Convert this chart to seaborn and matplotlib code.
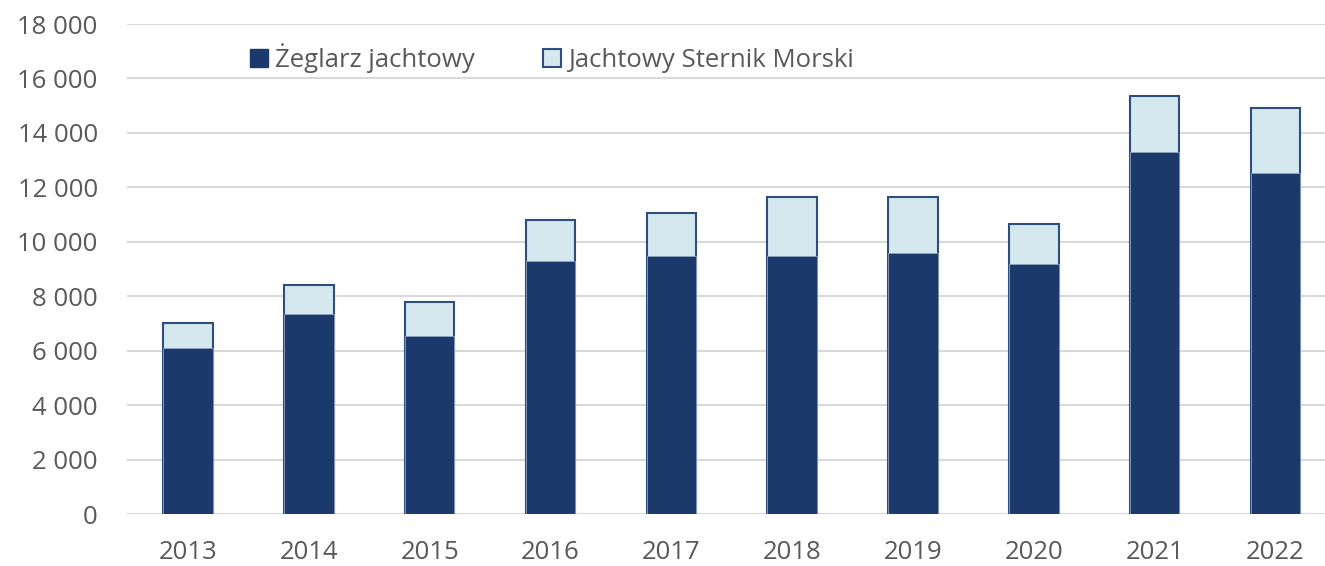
import matplotlib
matplotlib.use("Agg")
import matplotlib.pyplot as plt
import seaborn as sns
import pandas as pd
from matplotlib.ticker import FuncFormatter
from matplotlib.patches import Patch

years = ["2013", "2014", "2015", "2016", "2017", "2018", "2019", "2020", "2021", "2022"]
zeglarz = [6080, 7330, 6530, 9310, 9460, 9460, 9600, 9170, 13310, 12510]
sternik = [920, 1100, 1250, 1480, 1610, 2200, 2060, 1470, 2040, 2400]

series_names = ["Żeglarz jachtowy", "Jachtowy Sternik Morski"]
dark = "#1B3A6B"
light = "#D5E8F0"
edge = "#2E4E7E"
grid_c = "#D9D9D9"
text_c = "#595959"

totals = [a + b for a, b in zip(zeglarz, sternik)]
df = pd.DataFrame({"year": years, "zeglarz": zeglarz, "total": totals})

sns.set_theme(style="white")
plt.rcParams["font.family"] = ["Open Sans", "DejaVu Sans"]

fig = plt.figure(figsize=(13.25, 5.66), dpi=100)
ax = fig.add_axes([127 / 1325, 1 - 514 / 566, 1 - 127 / 1325, (514 - 24) / 566])

sns.barplot(data=df, x="year", y="total", color=light, edgecolor=edge,
            linewidth=1.5, width=0.41, saturation=1, ax=ax, zorder=2)
sns.barplot(data=df, x="year", y="zeglarz", color=dark, edgecolor="#8FA3C0",
            linewidth=0.6, width=0.41, saturation=1, ax=ax, zorder=3)

ax.set_ylim(0, 18000)
ax.set_xlim(-0.505, 9.41)
ax.set_yticks(range(0, 18001, 2000))
ax.yaxis.set_major_formatter(FuncFormatter(lambda v, p: f"{int(v):,}".replace(",", " ")))
ax.grid(axis="y", color=grid_c, linewidth=1.5, zorder=0)
ax.set_axisbelow(True)
for s in ax.spines.values():
    s.set_visible(False)
ax.set_xlabel("")
ax.set_ylabel("")
ax.tick_params(axis="y", length=0, pad=21, labelsize=18.5, labelcolor=text_c)
ax.tick_params(axis="x", length=0, pad=19, labelsize=18.5, labelcolor=text_c)

handles = [Patch(facecolor=dark, edgecolor=dark, linewidth=1),
           Patch(facecolor=light, edgecolor=edge, linewidth=1.5)]
leg = ax.legend(handles, series_names, ncol=2, loc="center left",
                bbox_to_anchor=((250 - 127) / 1198, (514 - 58) / 490),
                frameon=False, fontsize=18.5, borderpad=0, borderaxespad=0,
                handlelength=0.7, handleheight=0.7, handletextpad=0.28,
                columnspacing=2.65, labelcolor=text_c)

fig.savefig("out.png", dpi=100, facecolor="white")
